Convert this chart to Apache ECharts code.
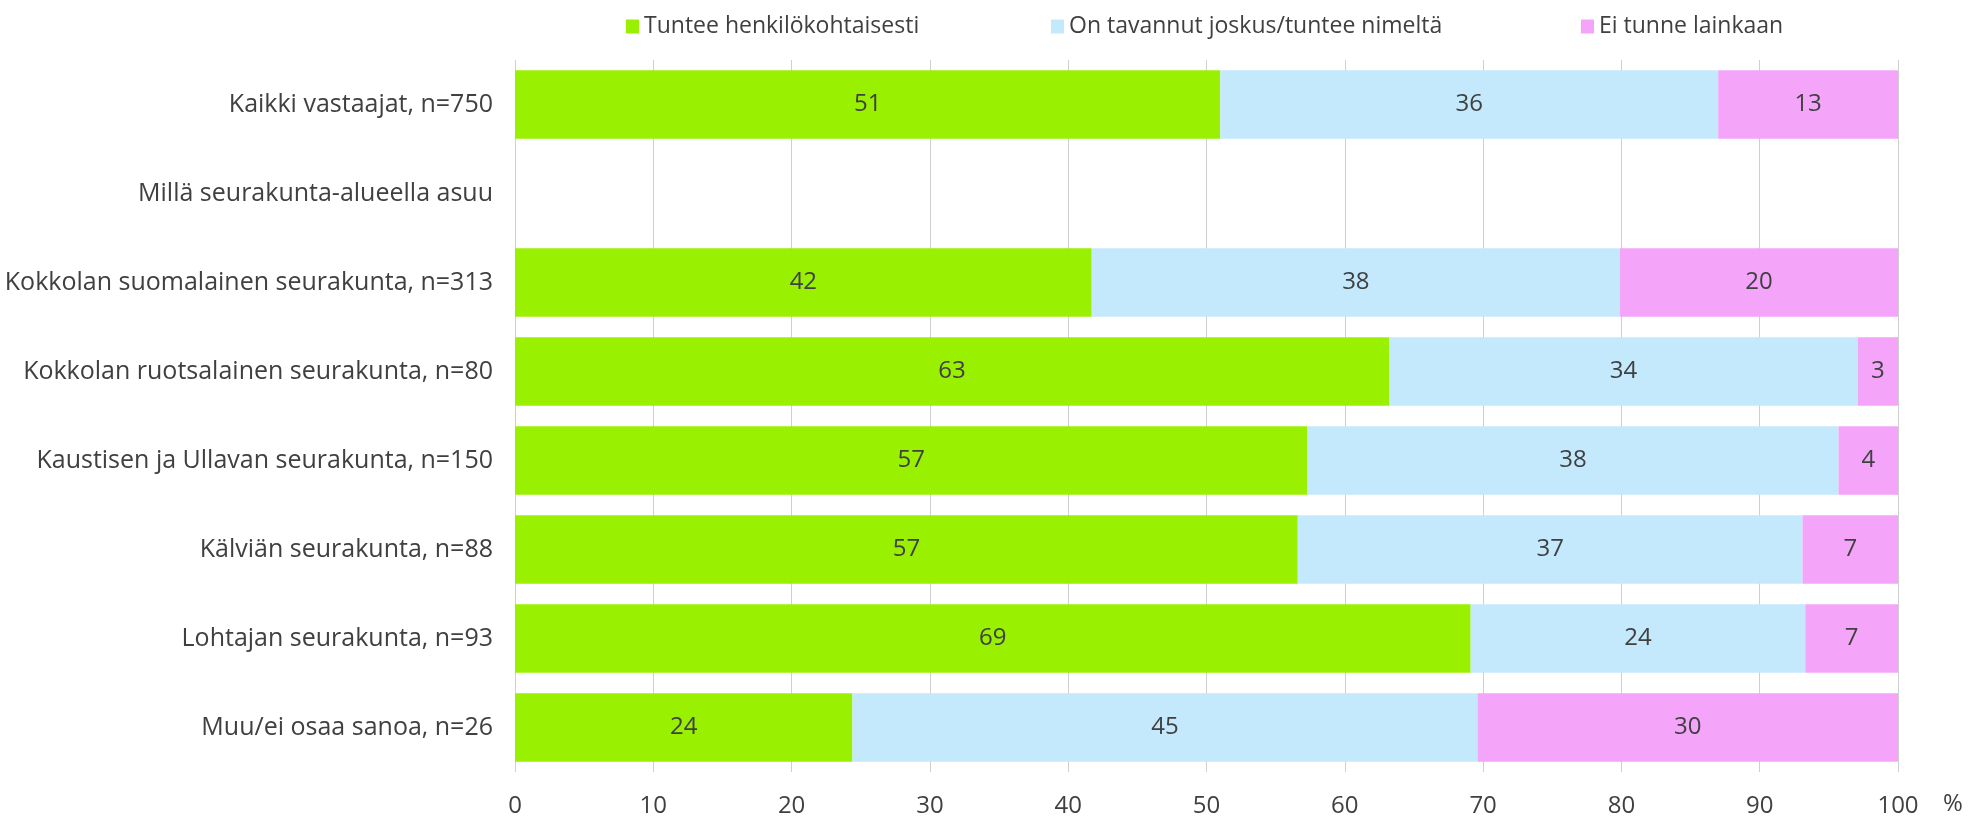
<!DOCTYPE html>
<html>
<head>
<meta charset="utf-8">
<script src="https://cdn.jsdelivr.net/npm/echarts@6/dist/echarts.min.js"></script>
<style>
html,body{margin:0;padding:0;background:#fff;}
#chart{width:1988px;height:821px;}
</style>
</head>
<body>
<div id="chart"></div>
<script>
const categories = [
  'Kaikki vastaajat, n=750',
  'Millä seurakunta-alueella asuu',
  'Kokkolan suomalainen seurakunta, n=313',
  'Kokkolan ruotsalainen seurakunta, n=80',
  'Kaustisen ja Ullavan seurakunta, n=150',
  'Kälviän seurakunta, n=88',
  'Lohtajan seurakunta, n=93',
  'Muu/ei osaa sanoa, n=26'
];
const seriesNames = ['Tuntee henkilökohtaisesti', 'On tavannut joskus/tuntee nimeltä', 'Ei tunne lainkaan'];
const tunteeHenkilokohtaisesti = [51.0, null, 41.7, 63.2, 57.3, 56.6, 69.1, 24.4];
const onTavannutJoskus       = [36.0, null, 38.2, 33.9, 38.4, 36.5, 24.2, 45.2];
const eiTunneLainkaan        = [13.0, null, 20.1, 2.9, 4.3, 6.9, 6.7, 30.4];
const xTicks = [0, 10, 20, 30, 40, 50, 60, 70, 80, 90, 100];

const colors = ['#99F000', '#C4E8FC', '#F4A5FA'];
const FONT = '"Open Sans", sans-serif';
const TXT = '#404040';
const FS = 24;

const chart = echarts.init(document.getElementById('chart'));
const allData = [tunteeHenkilokohtaisesti, onTavannutJoskus, eiTunneLainkaan];

const legendLefts = [621, 1046, 1576];
const option = {
  animation: false,
  textStyle: { fontFamily: FONT },
  legend: seriesNames.map((n, i) => ({
    data: [n],
    left: legendLefts[i],
    top: 10,
    icon: 'rect',
    itemWidth: 13,
    itemHeight: 14,
    itemGap: 8,
    textStyle: { fontFamily: FONT, fontSize: 23, color: TXT }
  })),
  grid: { left: 515, right: 90, top: 60, bottom: 49, containLabel: false },
  xAxis: {
    type: 'value',
    min: xTicks[0],
    max: xTicks[xTicks.length - 1],
    interval: 10,
    name: '%',
    nameLocation: 'end',
    nameGap: 45,
    nameTextStyle: { fontFamily: FONT, fontSize: FS, color: TXT, verticalAlign: 'top', padding: [20, 0, 0, 0] },
    axisLine: { show: false },
    axisTick: { show: false },
    axisLabel: { fontFamily: FONT, fontSize: FS, color: TXT, margin: 22 },
    splitLine: { show: true, lineStyle: { color: '#CFCFCF', width: 1 } }
  },
  yAxis: {
    type: 'category',
    inverse: true,
    data: categories,
    axisLine: { show: false },
    axisTick: { show: false },
    axisLabel: { fontFamily: FONT, fontSize: 25, color: TXT, margin: 22 }
  },
  series: seriesNames.map((n, i) => ({
    name: n,
    type: 'bar',
    stack: 'total',
    data: allData[i],
    barCategoryGap: '23%',
    itemStyle: { color: colors[i] },
    label: {
      show: true,
      position: 'inside',
      fontFamily: FONT,
      fontSize: FS,
      color: TXT,
      formatter: p => (p.value == null ? '' : String(Math.round(p.value)))
    }
  }))
};
chart.setOption(option);
</script>
</body>
</html>
